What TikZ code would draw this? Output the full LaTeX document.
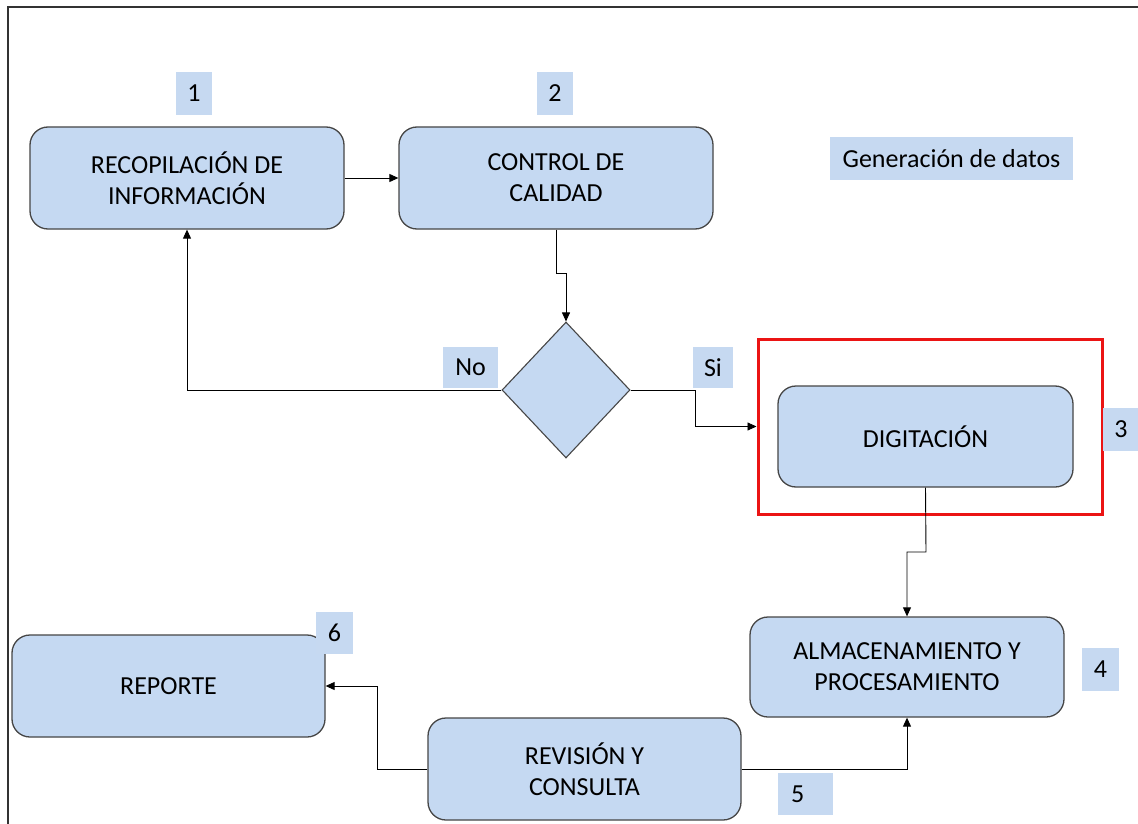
\documentclass[tikz,border=0pt]{standalone}
\usepackage{fontspec}
\setmainfont{Carlito}
\usetikzlibrary{shapes.geometric,arrows.meta}
\definecolor{boxfill}{RGB}{197,217,242}
\definecolor{tagfill}{RGB}{198,217,241}
\definecolor{edge}{RGB}{70,70,70}
\definecolor{mark}{RGB}{235,20,20}
\tikzset{
  stepbox/.style={draw=edge, line width=1.3pt, fill=boxfill, rounded corners=18pt,
    align=center, font=\fontsize{26}{31}\selectfont, inner sep=0pt},
  tag/.style={fill=tagfill, inner sep=0pt, font=\fontsize{26}{30}\selectfont},
  decision/.style={diamond, draw=edge, line width=1.1pt, fill=boxfill, inner sep=0pt,
    minimum width=128pt, minimum height=136pt},
  arr/.style={draw=black, line width=0.9pt, -{Triangle[length=9pt,width=8pt]}},
  selframe/.style={draw=mark, line width=3pt, inner sep=0pt}
}
\begin{document}
\begin{tikzpicture}[x=1pt,y=-1pt]
\useasboundingbox (0,0) rectangle (1138,824);
\fill[white] (0,0) rectangle (1138,824);
% outer frame (left and top edges)
\draw[line width=1.5pt, black!80] (8,830) -- (8,7) -- (1145,7);

% process steps
\node[stepbox, minimum width=314pt, minimum height=102pt] (rec) at (187,178) {RECOPILACIÓN DE\\INFORMACIÓN};
\node[stepbox, minimum width=314pt, minimum height=102pt] (ctl) at (556,178) {CONTROL DE\\CALIDAD};
\node[decision] (dec) at (566,390) {};
\node[selframe, minimum width=344pt, minimum height=175pt] (sel) at (930,426.5) {};
\node[stepbox, minimum width=295pt, minimum height=101pt] (dig) at (925.5,436.5) {DIGITACIÓN};
\node[stepbox, minimum width=314pt, minimum height=100pt] (alm) at (907,667) {ALMACENAMIENTO Y\\PROCESAMIENTO};
\node[stepbox, minimum width=313pt, minimum height=102pt] (rev) at (584.5,769) {REVISIÓN Y\\CONSULTA};
\node[stepbox, minimum width=313pt, minimum height=102pt] (rep) at (168.5,686) {REPORTE};

% tags
\node[tag, minimum width=36pt, minimum height=43pt] (t1) at (194,93.5) {1};
\node[tag, minimum width=36pt, minimum height=43pt] (t2) at (555,93.5) {2};
\node[tag, minimum width=36pt, minimum height=43pt] (t3) at (1121,429.5) {3};
\node[tag, minimum width=37pt, minimum height=43pt] (t4) at (1100.5,669.5) {4};
\node[tag, minimum width=55pt, minimum height=42pt, text width=55pt, align=left] (t5) at (805.5,794) {\hspace{13pt}5};
\node[tag, minimum width=37pt, minimum height=42pt] (t6) at (334.5,633) {6};
\node[tag, minimum width=243pt, minimum height=43pt] (gen) at (951.5,158.5) {Generación de datos};
\node[tag, minimum width=55pt, minimum height=41pt] (no) at (470.5,367.5) {No};
\node[tag, minimum width=40pt, minimum height=41pt] (si) at (713,367.5) {Si};

% bend points
\coordinate (b1) at (556,273);
\coordinate (b2) at (695,390);
\coordinate (b3) at (926,552);
\coordinate (b4) at (377,769);

% connectors
\draw[arr] (rec.east) -- (ctl.west);
\draw[arr] (ctl.south) -- (b1) -| (dec.north);
\draw[arr] (dec.west) -| (rec.south);
\draw[arr] (dec.east) -- (b2) |- (sel.west);
\draw[arr] (dig.south) -- (b3) -| (alm.north);
\draw[arr] (rev.east) -| (alm.south);
\draw[arr] (rev.west) -- (b4) |- (rep.east);
\end{tikzpicture}
\end{document}
